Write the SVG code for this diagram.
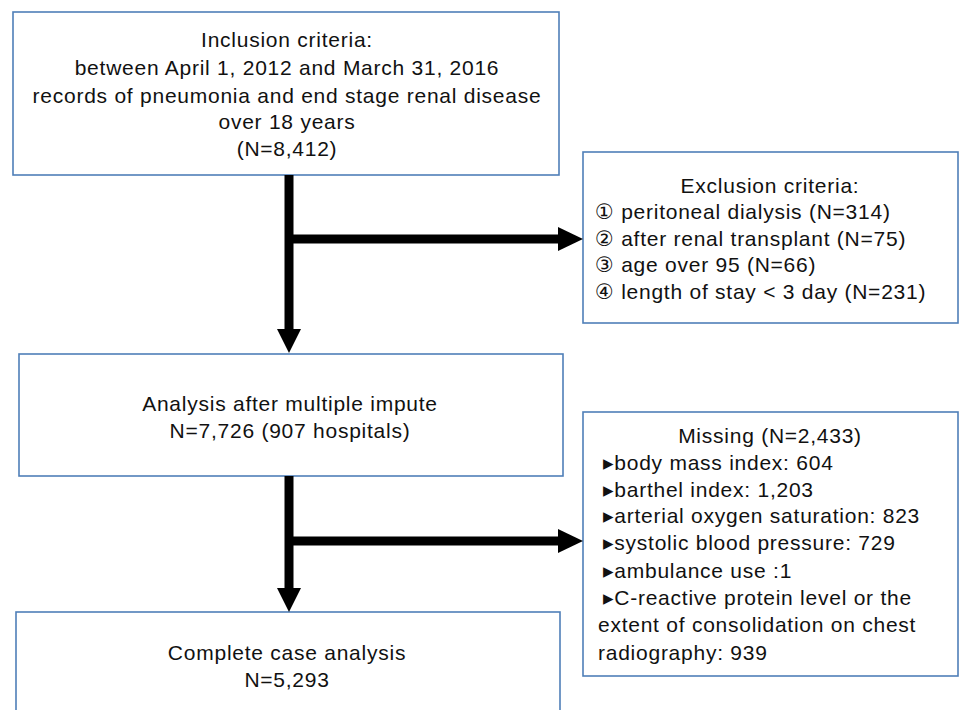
<svg xmlns="http://www.w3.org/2000/svg" width="959" height="710" viewBox="0 0 959 710">
<style>
.box{fill:#fff;stroke:#4f7fb8;stroke-width:1.6}
text{font-family:"Liberation Sans","DejaVu Sans",Arial,sans-serif;font-size:21px;letter-spacing:0.75px;fill:#111}
.c{text-anchor:middle}
.ln{stroke:#000;stroke-width:9;fill:none}
.hd{fill:#000}
</style>
<rect width="959" height="710" fill="#fff"/>
<g id="inclusion">
<rect class="box" x="13" y="12" width="546" height="163"/>
<text class="c" x="287" y="47">Inclusion criteria:</text>
<text class="c" x="287" y="75">between April 1, 2012 and March 31, 2016</text>
<text class="c" x="287" y="103">records of pneumonia and end stage renal disease</text>
<text class="c" x="287" y="129">over 18 years</text>
<text class="c" x="287" y="156">(N=8,412)</text>
</g>
<g id="exclusion">
<rect class="box" x="583" y="152" width="375" height="171"/>
<text class="c" x="770" y="193">Exclusion criteria:</text>
<text x="595" y="219">① peritoneal dialysis (N=314)</text>
<text x="595" y="246">② after renal transplant (N=75)</text>
<text x="595" y="272">③ age over 95 (N=66)</text>
<text x="595" y="299">④ length of stay &lt; 3 day (N=231)</text>
</g>
<g id="imputed">
<rect class="box" x="19" y="354" width="544" height="122"/>
<text class="c" x="290" y="411">Analysis after multiple impute</text>
<text class="c" x="290" y="438">N=7,726 (907 hospitals)</text>
</g>
<g id="missing">
<rect class="box" x="583" y="412" width="375" height="264"/>
<text class="c" x="770" y="443">Missing (N=2,433)</text>
<text x="603" y="470">▸body mass index: 604</text>
<text x="603" y="497">▸barthel index: 1,203</text>
<text x="603" y="523">▸arterial oxygen saturation: 823</text>
<text x="603" y="550">▸systolic blood pressure: 729</text>
<text x="603" y="578">▸ambulance use :1</text>
<text x="603" y="605">▸C-reactive protein level or the</text>
<text x="598" y="632">extent of consolidation on chest</text>
<text x="598" y="660">radiography: 939</text>
</g>
<g id="complete">
<rect class="box" x="16" y="612" width="544" height="120"/>
<text class="c" x="287" y="660">Complete case analysis</text>
<text class="c" x="287" y="687">N=5,293</text>
</g>
<g id="connectors">
<path class="ln" d="M289 175V330M289 239H559"/>
<polygon class="hd" points="277,329 301,329 289,353"/>
<polygon class="hd" points="558,227 558,251 583,239"/>
<path class="ln" d="M289 476V589M289 541H559"/>
<polygon class="hd" points="277,588 301,588 289,612"/>
<polygon class="hd" points="558,529 558,553 583,541"/>
</g>
</svg>
